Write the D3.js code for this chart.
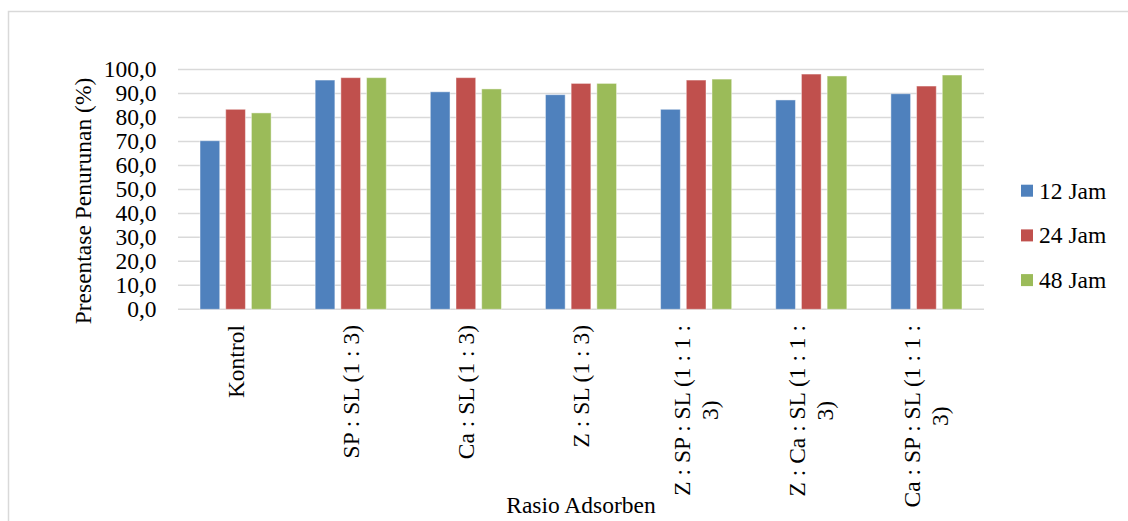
<!DOCTYPE html>
<html>
<head>
<meta charset="utf-8">
<script src="https://cdn.jsdelivr.net/npm/d3@7"></script>
<style>
  body { margin: 0; background: #fff; }
  text { font-family: "Liberation Serif", "Times New Roman", serif; fill: #000; }
</style>
</head>
<body>
<div id="chart"></div>
<script>
// ---------------------------------------------------------------------------
//                                   DATA
// ---------------------------------------------------------------------------
const categories = [
    "Kontrol",
    "SP : SL (1 : 3)",
    "Ca : SL (1 : 3)",
    "Z : SL (1 : 3)",
    "Z : SP : SL (1 : 1 : 3)",
    "Z : Ca : SL (1 : 1 : 3)",
    "Ca : SP : SL (1 : 1 : 3)"
]
const series = ["12 Jam", "24 Jam", "48 Jam"]
const values12 = [70.3, 95.6, 90.7, 89.5, 83.4, 87.3, 89.9]
const values24 = [83.4, 96.6, 96.6, 94.2, 95.6, 98.1, 93.1]
const values48 = [81.9, 96.6, 91.9, 94.2, 96.0, 97.3, 97.7]
const yTicks = [0, 10, 20, 30, 40, 50, 60, 70, 80, 90, 100]
const colors = ["#4F81BD", "#C0504D", "#9BBB59"]

const seriesValues = [values12, values24, values48]
const table = categories.map((c, i) => ({
    cat: c,
    vals: series.map((s, j) => ({ key: s, value: seriesValues[j][i], color: colors[j] }))
}))

// ---------------------------------------------------------------------------
//                              SIZE CONSTANTS
// ---------------------------------------------------------------------------
const WIDTH = 1128
const HEIGHT = 521
const PLOT_LEFT = 178
const PLOT_RIGHT = 984
const PLOT_TOP = 69.5
const PLOT_BOTTOM = 309.3
const FONT = 23.5
const LABEL_TOP = 325
const WRAP_WIDTH = 192
const LINE_STEP = 28

const svg = d3.select("#chart").append("svg")
    .attr("width", WIDTH)
    .attr("height", HEIGHT)

// outer chart frame (runs past right and bottom edge)
svg.append("rect")
    .attr("x", 8.5).attr("y", 11.5)
    .attr("width", 1300).attr("height", 700)
    .attr("fill", "none")
    .attr("stroke", "#d9d9d9")
    .attr("stroke-width", 1.5)

const x0 = d3.scaleBand()
    .domain(categories)
    .range([PLOT_LEFT, PLOT_RIGHT])

const x1 = d3.scaleBand()
    .domain(series)
    .range([0, 71.1])
    .paddingInner(0.233)
    .paddingOuter(0)

const y = d3.scaleLinear()
    .domain([0, 100])
    .range([PLOT_BOTTOM, PLOT_TOP])

// gridlines
svg.append("g")
    .selectAll("line")
    .data(yTicks)
    .join("line")
    .attr("x1", PLOT_LEFT)
    .attr("x2", PLOT_RIGHT)
    .attr("y1", d => y(d))
    .attr("y2", d => y(d))
    .attr("stroke", "#d9d9d9")
    .attr("stroke-width", 1.5)

// y axis labels
const yAxis = svg.append("g")
    .attr("transform", `translate(${PLOT_LEFT - 21.5},0)`)
    .call(d3.axisLeft(y).tickValues(yTicks).tickSize(0).tickPadding(0)
        .tickFormat(d => d3.format(".1f")(d).replace(".", ",")))
yAxis.select(".domain").remove()
yAxis.selectAll("text")
    .style("font-family", '"Liberation Serif", "Times New Roman", serif')
    .style("font-size", FONT + "px")
    .attr("fill", "#000")
    .attr("dy", "0.3em")

// bars
const offset = (x0.bandwidth() - 71.1) / 2
svg.append("g")
    .selectAll("g")
    .data(table)
    .join("g")
    .attr("transform", d => `translate(${x0(d.cat) + offset},0)`)
    .selectAll("rect")
    .data(d => d.vals)
    .join("rect")
    .attr("x", d => x1(d.key))
    .attr("y", d => y(d.value))
    .attr("width", x1.bandwidth())
    .attr("height", d => y(0) - y(d.value))
    .attr("fill", d => d.color)
    .attr("stroke", "#ffffff")
    .attr("stroke-opacity", 0.45)
    .attr("stroke-width", 1)

// category labels (rotated, wrapped)
const catLabels = svg.append("g")
    .selectAll("text")
    .data(categories)
    .join("text")
    .style("font-size", FONT + "px")
    .attr("text-anchor", "middle")

catLabels.each(function(c) {
    const t = d3.select(this)
    // greedy word wrap
    const words = c.split(" ")
    let lines = []
    let cur = ""
    const probe = t.append("tspan")
    words.forEach(w => {
        const test = cur ? cur + " " + w : w
        probe.text(test)
        if (probe.node().getComputedTextLength() > WRAP_WIDTH && cur) {
            lines.push(cur)
            cur = w
        } else {
            cur = test
        }
    })
    lines.push(cur)
    let maxLen = 0
    lines.forEach(l => {
        probe.text(l)
        maxLen = Math.max(maxLen, probe.node().getComputedTextLength())
    })
    probe.remove()

    const cx = x0(c) + x0.bandwidth() / 2
    const cy = LABEL_TOP + maxLen / 2
    const start = -(lines.length - 1) * LINE_STEP / 2 + 8
    t.attr("transform", `translate(${cx},${cy}) rotate(-90)`)
    lines.forEach((l, i) => {
        t.append("tspan")
            .attr("x", 0)
            .attr("y", start + i * LINE_STEP)
            .text(l)
    })
})

// axis titles
svg.append("text")
    .attr("x", (PLOT_LEFT + PLOT_RIGHT) / 2)
    .attr("y", 513)
    .attr("text-anchor", "middle")
    .style("font-size", FONT + "px")
    .text("Rasio Adsorben")

svg.append("text")
    .attr("transform", "translate(91,201) rotate(-90)")
    .attr("text-anchor", "middle")
    .style("font-size", FONT + "px")
    .text("Presentase Penurunan (%)")

// legend
const legend = svg.append("g")
    .selectAll("g")
    .data(series)
    .join("g")
    .attr("transform", (d, i) => `translate(1021,${190.7 + i * 44.7})`)

legend.append("rect")
    .attr("x", 0).attr("y", -6)
    .attr("width", 12).attr("height", 12)
    .attr("fill", (d, i) => colors[i])

legend.append("text")
    .attr("x", 18)
    .attr("y", 8)
    .style("font-size", FONT + "px")
    .text(d => d)
</script>
</body>
</html>
